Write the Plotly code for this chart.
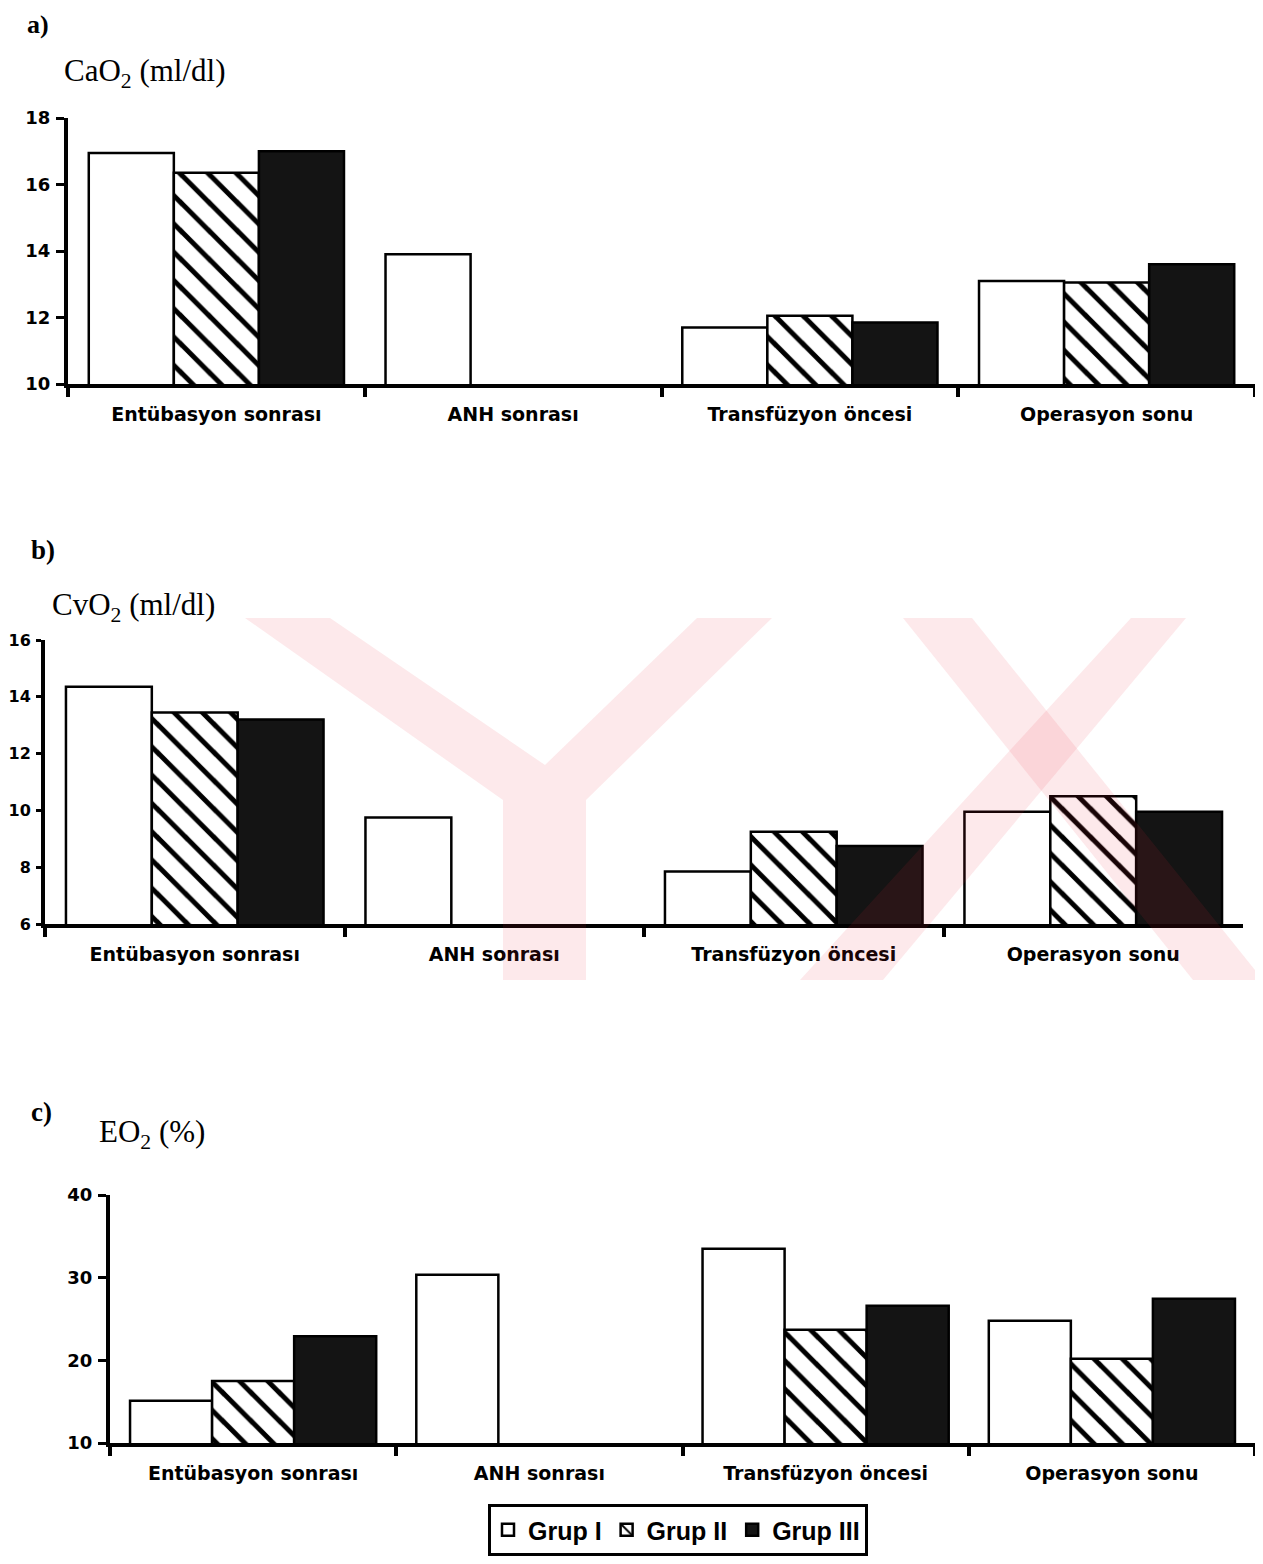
import plotly.graph_objects as go

W, H = 1263, 1564
PAD = 8  # page body margin
FW, FH = W - 2 * PAD, H - 2 * PAD

categories = ["Entübasyon sonrası", "ANH sonrası", "Transfüzyon öncesi", "Operasyon sonu"]
groups = ["Grup I", "Grup II", "Grup III"]

cao2_grup1 = [16.95, 13.9, 11.7, 13.1]
cao2_grup2 = [16.35, None, 12.05, 13.05]
cao2_grup3 = [17.0, None, 11.85, 13.6]

cvo2_grup1 = [14.35, 9.75, 7.85, 9.95]
cvo2_grup2 = [13.45, None, 9.25, 10.5]
cvo2_grup3 = [13.2, None, 8.75, 9.95]

eo2_grup1 = [15.1, 30.35, 33.5, 24.8]
eo2_grup2 = [17.5, None, 23.7, 20.2]
eo2_grup3 = [22.9, None, 26.6, 27.45]

cao2_ticks = [10, 12, 14, 16, 18]
cvo2_ticks = [6, 8, 10, 12, 14, 16]
eo2_ticks = [10, 20, 30, 40]


def px(x):
    return (x - PAD) / FW


def py(y):
    return 1 - (y - PAD) / FH


def clamp(v):
    return max(0.0, min(1.0, v))


SANS = "DejaVu Sans, Arial, sans-serif"
LSANS = "Liberation Sans, Arial, sans-serif"
SERIF = "Liberation Serif, Times New Roman, serif"

styles = [
    dict(marker=dict(color="white", line=dict(color="black", width=2.5))),
    dict(marker=dict(color="white", line=dict(color="black", width=2.5),
                     pattern=dict(shape="\\", fgcolor="black", bgcolor="white",
                                  fgopacity=1, size=20, solidity=0.25))),
    dict(marker=dict(color="#141414", line=dict(color="black", width=2.5))),
]

panels = [
    dict(series=[cao2_grup1, cao2_grup2, cao2_grup3], xd=(68, 1258), yd=(118, 384),
         rng=(10, 18), ticks=cao2_ticks, tfs=18, tlen=8),
    dict(series=[cvo2_grup1, cvo2_grup2, cvo2_grup3], xd=(45, 1243), yd=(640, 924),
         rng=(6, 16), ticks=cvo2_ticks, tfs=16, tlen=5),
    dict(series=[eo2_grup1, eo2_grup2, eo2_grup3], xd=(110, 1262), yd=(1195, 1443),
         rng=(10, 40), ticks=eo2_ticks, tfs=18, tlen=8),
]

fig = go.Figure()
layout = {}
for i, p in enumerate(panels):
    sfx = "" if i == 0 else str(i + 1)
    for g, (name, vals) in enumerate(zip(groups, p["series"])):
        fig.add_trace(go.Bar(
            x=categories, y=vals, name=name,
            xaxis="x" + sfx, yaxis="y" + sfx,
            showlegend=(i == 0), legendgroup=name,
            **styles[g]))
    layout["xaxis" + sfx] = dict(
        domain=[clamp(px(p["xd"][0])), clamp(px(p["xd"][1]))], anchor="y" + sfx,
        type="category", range=[-0.5, 3.5], automargin=False,
        showline=True, linecolor="black", linewidth=4,
        ticks="outside", tickson="boundaries", ticklen=9, tickwidth=4, tickcolor="black",
        showgrid=False, zeroline=False, ticklabelstandoff=10,
        tickfont=dict(family=SANS, size=19, color="black", weight="bold"),
    )
    layout["yaxis" + sfx] = dict(
        domain=[clamp(py(p["yd"][1])), clamp(py(p["yd"][0]))], anchor="x" + sfx,
        range=list(p["rng"]), tickvals=p["ticks"], automargin=False,
        showline=True, linecolor="black", linewidth=4,
        ticks="outside", ticklen=p["tlen"], tickwidth=3, tickcolor="black",
        showgrid=False, zeroline=False, ticklabelstandoff=2,
        tickfont=dict(family=SANS, size=p["tfs"], color="black", weight="bold"),
    )

annotations = [
    dict(text="a)", x=px(25), y=py(25), font=dict(family=SERIF, size=26, color="black", weight="bold")),
    dict(text="CaO<sub>2</sub> (ml/dl)", x=px(62), y=py(73), font=dict(family=SERIF, size=31, color="black")),
    dict(text="b)", x=px(29), y=py(550), font=dict(family=SERIF, size=27, color="black", weight="bold")),
    dict(text="CvO<sub>2</sub> (ml/dl)", x=px(50), y=py(607), font=dict(family=SERIF, size=31, color="black")),
    dict(text="c)", x=px(29), y=py(1112), font=dict(family=SERIF, size=27, color="black", weight="bold")),
    dict(text="EO<sub>2</sub> (%)", x=px(97), y=py(1134), font=dict(family=SERIF, size=31, color="black")),
]
for a in annotations:
    a.update(xref="paper", yref="paper", xanchor="left", yanchor="middle", showarrow=False)


def poly(points):
    d = "M " + " L ".join(f"{px(x):.5f},{py(y):.5f}" for x, y in points) + " Z"
    return dict(type="path", path=d, xref="paper", yref="paper",
                fillcolor="rgba(232,40,55,0.10)", line=dict(width=0), layer="above")


watermark = [
    poly([(245, 618), (330, 618), (545, 765), (697, 618), (772, 618), (586, 800),
          (586, 980), (503, 980), (503, 800)]),
    poly([(903, 618), (972, 618), (1255, 970), (1255, 980), (1193, 980)]),
    poly([(1131, 618), (1186, 618), (883, 980), (800, 980)]),
]

fig.update_layout(
    **layout,
    width=FW, height=FH,
    margin=dict(l=0, r=0, t=0, b=0, autoexpand=False),
    paper_bgcolor="white", plot_bgcolor="white",
    barmode="group", bargap=0.14, bargroupgap=0,
    annotations=annotations,
    shapes=watermark,
    legend=dict(orientation="h", x=px(678), y=0, xanchor="center", yanchor="bottom",
                bordercolor="black", borderwidth=3, bgcolor="white",
                font=dict(family=LSANS, size=25, color="black", weight="bold"),
                itemwidth=30, tracegroupgap=0),
    showlegend=True,
)

fig.write_html("out.html")
